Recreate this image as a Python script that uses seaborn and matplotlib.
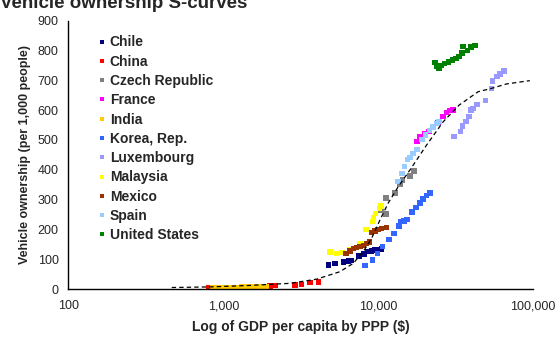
import numpy as np
import pandas as pd
import seaborn as sns
import matplotlib.pyplot as plt
from matplotlib.ticker import FuncFormatter, FixedLocator

# Datos (PIB per cápita PPP, vehículos por 1.000 personas)
countries = ["Chile", "China", "Czech Republic", "France", "India", "Korea, Rep.",
             "Luxembourg", "Malaysia", "Mexico", "Spain", "United States"]
colors = ["#000080", "#FF0000", "#808080", "#FF00FF", "#FFCC00", "#3366FF",
          "#9999FF", "#FFFF00", "#993300", "#99CCFF", "#008000"]

chile_gdp = [4757, 5254, 5945, 6405, 6734, 7540, 8085, 8619, 9067, 9522, 10000, 10517]
chile_veh = [80, 86, 90, 94, 95, 111, 117, 125, 127, 131, 133, 134]

china_gdp = [800, 884, 981, 1105, 1244, 1422, 1626, 1804, 2001, 2155, 2901, 3205, 3626, 4102]
china_veh = [3, 3, 4, 4, 5, 5, 6, 7, 10, 11, 13, 16, 21, 23]

czech_gdp = [10409, 11212, 11212, 12817, 13804, 14326, 16016, 16994]
czech_veh = [265, 252, 305, 322, 352, 366, 379, 396]

france_gdp = [17850, 18578, 20013, 21330, 22705, 24381, 26268, 27627, 29010, 30470]
france_veh = [494, 510, 522, 528, 542, 559, 578, 592, 598, 600]

india_gdp = [850, 885, 910, 950, 990, 1030, 1080, 1130, 1190, 1250, 1320, 1400, 1480,
             1570, 1680, 1800, 1900]
india_veh = [4, 4, 4, 5, 5, 5, 5, 6, 6, 6, 7, 7, 7, 8, 8, 9, 9]

korea_gdp = [8207, 9203, 9911, 10676, 11722, 12683, 13597, 14014, 14650, 15318, 16503,
             17510, 18578, 19512, 20464, 21554]
korea_veh = [78, 97, 120, 142, 167, 187, 211, 226, 228, 233, 258, 274, 288, 302, 314, 322]

lux_gdp = [30780, 33910, 35040, 36960, 38590, 39630, 40960, 43340, 49160, 53900, 54710,
           58320, 60980, 64920]
lux_veh = [512, 528, 547, 561, 578, 600, 606, 618, 632, 672, 698, 712, 721, 731]

malaysia_gdp = [4880, 5390, 5832, 6569, 7620, 8330, 9203, 9312, 9594, 10179, 10409]
malaysia_veh = [124, 119, 122, 132, 151, 200, 226, 240, 253, 270, 278]

mexico_gdp = [6188, 6569, 6900, 7255, 7620, 8003, 8417, 8774, 9067, 9522, 10000, 10517, 11330]
mexico_veh = [120, 128, 135, 140, 143, 146, 153, 158, 189, 194, 200, 204, 207]

spain_gdp = [13460, 14224, 14757, 15431, 16016, 16818, 17770, 19143, 20161, 21394, 22633,
             23918, 24750]
spain_veh = [360, 388, 410, 435, 442, 455, 467, 502, 517, 531, 544, 555, 561]

us_gdp = [23220, 23750, 24650, 25390, 26740, 28460, 30110, 31710, 33160, 34670, 35350,
          37630, 39810, 42060]
us_veh = [759, 748, 741, 749, 757, 762, 768, 774, 779, 792, 814, 800, 812, 816]

# curva S (línea discontinua)
curve_gdp = [465, 821, 1487, 2694, 4005, 5662, 6900, 8003, 9067, 10256, 11600, 13460,
             16016, 20530, 26270, 33310, 44190, 53900, 67360, 95200]
curve_veh = [5, 7, 12, 19, 33, 58, 86, 125, 170, 231, 288, 343, 399, 483, 561, 617,
             662, 673, 688, 699]

series = [(chile_gdp, chile_veh), (china_gdp, china_veh), (czech_gdp, czech_veh),
          (france_gdp, france_veh), (india_gdp, india_veh), (korea_gdp, korea_veh),
          (lux_gdp, lux_veh), (malaysia_gdp, malaysia_veh), (mexico_gdp, mexico_veh),
          (spain_gdp, spain_veh), (us_gdp, us_veh)]

frames = []
for name, (g, v) in zip(countries, series):
    frames.append(pd.DataFrame({"gdp": g, "veh": v, "country": name}))
df = pd.concat(frames, ignore_index=True)
curve = pd.DataFrame({"gdp": curve_gdp, "veh": curve_veh})

sns.set_style("white")
plt.rcParams["font.family"] = ["Liberation Sans", "DejaVu Sans"]

fig = plt.figure(figsize=(5.6, 3.4), dpi=100)
ax = fig.add_axes([0.122, 0.15, 0.830, 0.789])

sns.scatterplot(data=df, x="gdp", y="veh", hue="country", hue_order=countries,
                palette=dict(zip(countries, colors)), marker="s", s=15,
                linewidth=0, ax=ax, zorder=2)
sns.lineplot(data=curve, x="gdp", y="veh", color="black", lw=0.9,
             linestyle=(0, (3.5, 2.5)), ax=ax, zorder=3)

ax.set_xscale("log")
ax.set_xlim(100, 100000)
ax.set_ylim(0, 900)
ax.set_yticks(range(0, 901, 100))
ax.xaxis.set_major_locator(FixedLocator([100, 1000, 10000, 100000]))
ax.xaxis.set_minor_locator(FixedLocator([]))
ax.xaxis.set_major_formatter(FuncFormatter(lambda v, p: f"{int(v):,}"))

for side in ["top", "right"]:
    ax.spines[side].set_visible(False)
for side in ["left", "bottom"]:
    ax.spines[side].set_color("black")
    ax.spines[side].set_linewidth(1.0)
ax.tick_params(axis="both", which="major", direction="out", length=4, width=1,
               color="black", labelsize=9, pad=3)
ax.tick_params(axis="x", pad=4)

ax.set_xlabel("Log of GDP per capita by PPP ($)", fontsize=10, fontweight="bold", labelpad=6)
ax.set_ylabel("Vehicle ownership (per 1,000 people)", fontsize=9, fontweight="bold",
              labelpad=5)

leg = ax.legend(loc="upper left", bbox_to_anchor=(0.061, 0.945), frameon=False,
                prop={"weight": "bold", "size": 10}, handlelength=0.8,
                handletextpad=0.15, labelspacing=0.38, borderaxespad=0, borderpad=0,
                markerscale=0.8)
for h in leg.legend_handles:
    h.set_linewidth(0)

fig.text(0.0, 0.976, "Vehicle ownership S-curves", fontsize=13.5, fontweight="bold",
         ha="left", va="baseline")

fig.savefig("out.png", dpi=100)
